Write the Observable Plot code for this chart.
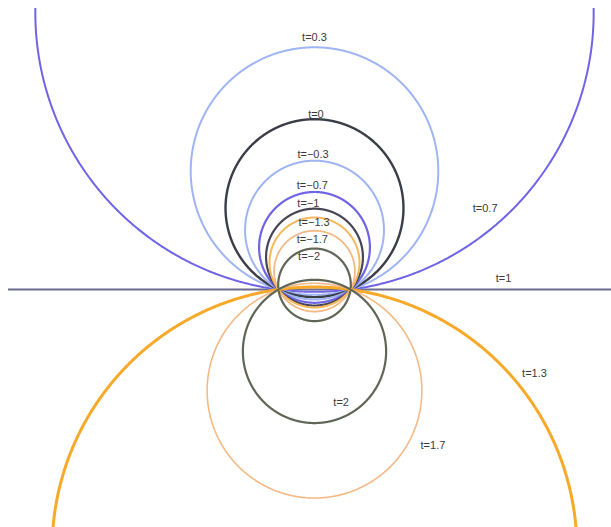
<!DOCTYPE html>
<html>
<head>
<meta charset="utf-8">
<script src="https://cdn.jsdelivr.net/npm/d3@7"></script>
<script src="https://cdn.jsdelivr.net/npm/@observablehq/plot@0.6"></script>
<style>
  html, body { margin: 0; padding: 0; background: #fff; }
  #chart svg { display: block; }
</style>
</head>
<body>
<div id="chart"></div>
<script>
// Family of circles through A(-1,0) and B(1,0); units: half-distance AB = 1
const tValues  = [0.7, 0.3, 0, -0.3, -0.7, -1, -1.3, -1.7, -2, 1.3, 1.7, 2];
const tNames   = ["t=0.7", "t=0.3", "t=0", "t=\u22120.3", "t=\u22120.7", "t=\u22121", "t=\u22121.3", "t=\u22121.7", "t=\u22122", "t=1.3", "t=1.7", "t=2"];
// centre height of each circle on the perpendicular bisector
const centerY  = [7.69, 3.29, 2.26, 1.65, 1.17, 0.90, 0.75, 0.51, 0.13, -7.22, -2.81, -1.72];
// label anchors (data units)
const labelX   = [4.74, 0.0, 0.04, -0.04, -0.06, -0.17, -0.01, -0.06, -0.15, 6.11, 3.29, 0.74];
const labelY   = [2.25, 7.0, 4.87, 3.75, 2.90, 2.39, 1.86, 1.40, 0.92, -2.34, -4.33, -3.15];
// the straight member of the family, t = 1
const lineT = 1, lineName = "t=1", lineLabelX = 5.25, lineLabelY = 0.30;

const colorOf = {
  "0.7": "#6f63e6", "0.3": "#9fb4f2", "0": "#3b3d47", "-0.3": "#9fb4f2",
  "-0.7": "#6f63e6", "-1": "#454556", "-1.3": "#f6b85a", "-1.7": "#f5b985",
  "-2": "#5f6656", "1.3": "#f7a92a", "1.7": "#f5b985", "2": "#5f6656", "1": "#6a6a8c"
};
const widthOf = {
  "0.7": 2, "0.3": 2, "0": 2.4, "-0.3": 2, "-0.7": 2.2, "-1": 2.2, "-1.3": 2,
  "-1.7": 1.8, "-2": 2.2, "1.3": 3, "1.7": 1.6, "2": 2.2, "1": 2
};

const circles = tValues.map((t, i) => {
  const c = centerY[i];
  const r = Math.sqrt(1 + c * c);
  const n = 1440;
  const pts = d3.range(n + 1).map(k => {
    const a = (k / n) * 2 * Math.PI;
    return {x: r * Math.cos(a), y: c + r * Math.sin(a)};
  });
  return {t, pts};
});

const labels = tValues.map((t, i) => ({t, name: tNames[i], x: labelX[i], y: labelY[i]}))
  .concat([{t: lineT, name: lineName, x: lineLabelX, y: lineLabelY}]);

const marks = [
  Plot.ruleY([0], {stroke: colorOf[String(lineT)], strokeWidth: widthOf[String(lineT)]}),
  ...circles.map(cc => Plot.line(cc.pts, {
    x: "x", y: "y", stroke: colorOf[String(cc.t)], strokeWidth: widthOf[String(cc.t)],
    clip: true, curve: "linear"
  })),
  Plot.text(labels, {
    x: "x", y: "y", text: "name", fill: "#3a3a3a", fontSize: 11,
    fontFamily: "Liberation Sans, Arial, sans-serif", textAnchor: "middle"
  })
];

const chart = Plot.plot({
  width: 611,
  height: 527,
  marginLeft: 8,
  marginTop: 8,
  marginRight: 0,
  marginBottom: 0,
  x: {domain: [-8.5, 8.25], axis: null},
  y: {domain: [-6.611, 7.806], axis: null},
  style: {background: "#fff", fontFamily: "Liberation Sans, Arial, sans-serif"},
  marks
});
document.getElementById("chart").appendChild(chart);
</script>
</body>
</html>
